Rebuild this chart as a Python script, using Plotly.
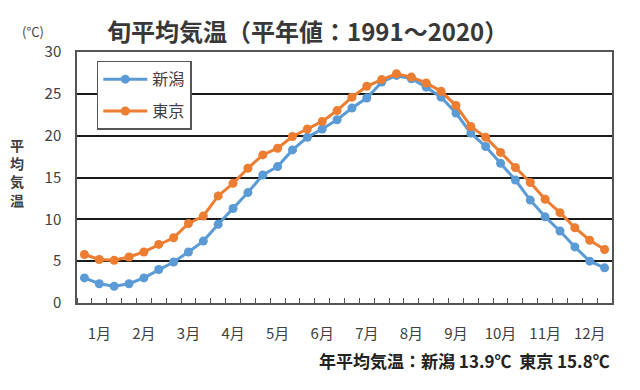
import plotly.graph_objects as go

months = ["1月", "2月", "3月", "4月", "5月", "6月", "7月", "8月", "9月", "10月", "11月", "12月"]
periods = list(range(36))  # 旬 index (上旬・中旬・下旬 x 12)

niigata = [3.0, 2.3, 2.0, 2.3, 3.0, 4.0, 4.9, 6.1, 7.4, 9.4, 11.3, 13.2,
           15.3, 16.3, 18.3, 19.8, 20.8, 21.9, 23.3, 24.5, 26.4, 27.2, 26.8, 25.8,
           24.6, 22.7, 20.3, 18.7, 16.7, 14.7, 12.3, 10.3, 8.6, 6.7, 5.0, 4.2]
tokyo = [5.8, 5.2, 5.1, 5.5, 6.1, 7.0, 7.8, 9.5, 10.4, 12.8, 14.3, 16.1,
         17.7, 18.5, 19.9, 20.8, 21.7, 23.0, 24.6, 25.9, 26.7, 27.4, 27.0, 26.3,
         25.3, 23.6, 21.1, 19.8, 18.0, 16.2, 14.4, 12.4, 10.8, 9.0, 7.5, 6.4]
month_centers = [3 * i + 1 for i in range(12)]
y_ticks = [0, 5, 10, 15, 20, 25, 30]

FONT = "Noto Sans CJK JP"
GRAY = "#404040"

fig = go.Figure()
fig.add_trace(go.Scatter(
    x=periods, y=niigata, name="新潟", mode="lines+markers",
    line=dict(color="#5B9BD5", width=3),
    marker=dict(color="#5B9BD5", size=9),
    legendgroup="a",
))
fig.add_trace(go.Scatter(
    x=periods, y=tokyo, name="東京", mode="lines+markers",
    line=dict(color="#ED7D31", width=3),
    marker=dict(color="#ED7D31", size=9),
    legendgroup="b",
))

fig.update_layout(
    width=624, height=374,
    margin=dict(l=69, r=20, t=44, b=79),
    paper_bgcolor="white", plot_bgcolor="white",
    font=dict(family=FONT, color=GRAY),
    showlegend=True,
    legend=dict(
        x=0.037, y=0.965, xanchor="left", yanchor="top",
        bgcolor="white", bordercolor="#555555", borderwidth=1.5,
        font=dict(size=16, color=GRAY, family=FONT),
        tracegroupgap=8, itemwidth=44,
    ),
    xaxis=dict(
        range=[-0.5, 35.5],
        tickmode="array", tickvals=month_centers, ticktext=months,
        ticks="", showgrid=False, ticklabelstandoff=16,
        showline=True, linecolor="#555555", linewidth=1.5, mirror=True,
        tickfont=dict(size=15, color=GRAY, family=FONT),
        minor=dict(ticks="inside", tick0=-0.5, dtick=1, ticklen=5,
                   tickcolor="#555555", tickwidth=1, showgrid=False),
        zeroline=False,
    ),
    yaxis=dict(
        range=[0, 30],
        tickmode="array", tickvals=y_ticks,
        showgrid=True, gridcolor="#1a1a1a", gridwidth=2,
        showline=True, linecolor="#555555", linewidth=1.5, mirror=True,
        ticks="", ticklabelstandoff=11,
        tickfont=dict(size=15, color=GRAY, family=FONT),
        zeroline=False,
    ),
)

fig.add_annotation(
    text="<b>旬平均気温（平年値：1991～2020）</b>",
    xref="paper", yref="paper", x=0.052, y=1.0, yshift=22,
    xanchor="left", yanchor="middle", showarrow=False,
    font=dict(size=24, color="#383838", family=FONT),
)
fig.add_annotation(
    text="(°C)",
    xref="paper", yref="paper", x=-0.083, y=1.0, yshift=21,
    xanchor="center", yanchor="middle", showarrow=False,
    font=dict(size=13, color=GRAY, family=FONT),
)
fig.add_annotation(
    text="<b>平<br>均<br>気<br>温</b>",
    xref="paper", yref="paper", x=-0.112, y=0.52,
    xanchor="center", yanchor="middle", showarrow=False,
    font=dict(size=14, color=GRAY, family=FONT),
)
fig.add_annotation(
    text="<b>年平均気温：新潟 13.9℃  東京 15.8℃</b>",
    xref="paper", yref="paper", x=1.0, y=0, yshift=-57,
    xanchor="right", yanchor="middle", showarrow=False,
    font=dict(size=17, color="#222222", family=FONT),
)

fig.write_html("out.html")
